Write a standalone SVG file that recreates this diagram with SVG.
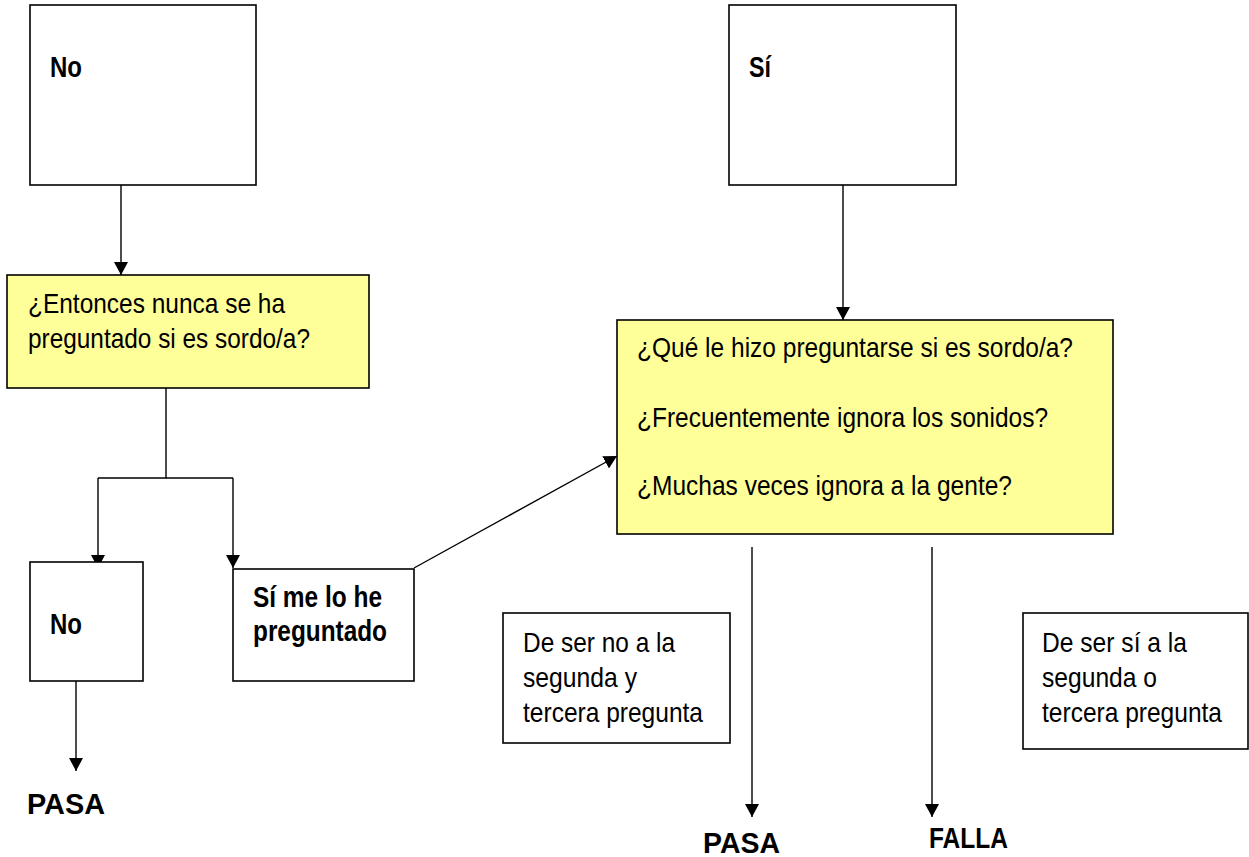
<svg xmlns="http://www.w3.org/2000/svg" width="1249" height="857" viewBox="0 0 1249 857">
<style>
.box{fill:#ffffff;stroke:#000000;stroke-width:1.6}
.ybox{fill:#ffff99;stroke:#000000;stroke-width:1.6}
.t{font-family:"Liberation Sans",Arial,sans-serif;font-size:28px;fill:#000000}
.b{font-family:"Liberation Sans",Arial,sans-serif;font-size:30px;font-weight:bold;fill:#000000}
.conn{fill:none;stroke:#000000;stroke-width:1.4}
</style>
<defs>
<marker id="ah" markerUnits="userSpaceOnUse" markerWidth="14" markerHeight="14" refX="13" refY="7" orient="auto" viewBox="0 0 14 14">
<path d="M0,0 L13,7 L0,14 z" fill="#000000"/>
</marker>
</defs>
<g id="connectors">
<line class="conn" x1="121" y1="185" x2="121" y2="275" marker-end="url(#ah)"/>
<line class="conn" x1="843" y1="185" x2="843" y2="320" marker-end="url(#ah)"/>
<polyline class="conn" points="166,388 166,478 98,478"/>
<line class="conn" x1="98" y1="478" x2="98" y2="568" marker-end="url(#ah)"/>
<polyline class="conn" points="166,478 233,478"/>
<line class="conn" x1="233" y1="478" x2="233" y2="568" marker-end="url(#ah)"/>
<line class="conn" x1="76" y1="681" x2="76" y2="771" marker-end="url(#ah)"/>
<line class="conn" x1="414" y1="568" x2="617" y2="456" marker-end="url(#ah)"/>
<line class="conn" x1="752" y1="547" x2="752" y2="817" marker-end="url(#ah)"/>
<line class="conn" x1="932" y1="547" x2="932" y2="817" marker-end="url(#ah)"/>
</g>
<g id="no-top">
<rect class="box" x="30" y="5" width="226" height="180"/>
<text class="b" x="50" y="77" textLength="32" lengthAdjust="spacingAndGlyphs">No</text>
</g>
<g id="si-top">
<rect class="box" x="729" y="5" width="227" height="180"/>
<text class="b" x="749" y="77" textLength="22" lengthAdjust="spacingAndGlyphs">Sí</text>
</g>
<g id="q-left">
<rect class="ybox" x="7" y="275" width="362" height="113"/>
<text class="t" x="28" y="313" textLength="257" lengthAdjust="spacingAndGlyphs">¿Entonces nunca se ha</text>
<text class="t" x="28" y="348" textLength="282" lengthAdjust="spacingAndGlyphs">preguntado si es sordo/a?</text>
</g>
<g id="q-right">
<rect class="ybox" x="617" y="320" width="496" height="214"/>
<text class="t" x="637" y="357" textLength="436" lengthAdjust="spacingAndGlyphs">¿Qué le hizo preguntarse si es sordo/a?</text>
<text class="t" x="637" y="427" textLength="411" lengthAdjust="spacingAndGlyphs">¿Frecuentemente ignora los sonidos?</text>
<text class="t" x="637" y="495" textLength="375" lengthAdjust="spacingAndGlyphs">¿Muchas veces ignora a la gente?</text>
</g>
<g id="no-bottom">
<rect class="box" x="30" y="562" width="113" height="119"/>
<text class="b" x="50" y="634" textLength="32" lengthAdjust="spacingAndGlyphs">No</text>
</g>
<g id="si-me">
<rect class="box" x="233" y="569" width="181" height="112"/>
<text class="b" x="253" y="607" textLength="129" lengthAdjust="spacingAndGlyphs">Sí me lo he</text>
<text class="b" x="253" y="641" textLength="134" lengthAdjust="spacingAndGlyphs">preguntado</text>
</g>
<g id="note-left">
<rect class="box" x="503" y="613" width="227" height="130"/>
<text class="t" x="523" y="652" textLength="152" lengthAdjust="spacingAndGlyphs">De ser no a la</text>
<text class="t" x="523" y="687" textLength="114" lengthAdjust="spacingAndGlyphs">segunda y</text>
<text class="t" x="523" y="722" textLength="180" lengthAdjust="spacingAndGlyphs">tercera pregunta</text>
</g>
<g id="note-right">
<rect class="box" x="1023" y="613" width="225" height="136"/>
<text class="t" x="1042" y="652" textLength="145" lengthAdjust="spacingAndGlyphs">De ser sí a la</text>
<text class="t" x="1042" y="687" textLength="115" lengthAdjust="spacingAndGlyphs">segunda o</text>
<text class="t" x="1042" y="722" textLength="180" lengthAdjust="spacingAndGlyphs">tercera pregunta</text>
</g>
<g id="pasa-left">
<text class="b" x="27" y="814" font-size="35" textLength="78" lengthAdjust="spacingAndGlyphs">PASA</text>
</g>
<g id="pasa-mid">
<text class="b" x="703" y="853" font-size="35" textLength="77" lengthAdjust="spacingAndGlyphs">PASA</text>
</g>
<g id="falla">
<text class="b" x="929" y="848" font-size="31" textLength="79" lengthAdjust="spacingAndGlyphs">FALLA</text>
</g>
</svg>
